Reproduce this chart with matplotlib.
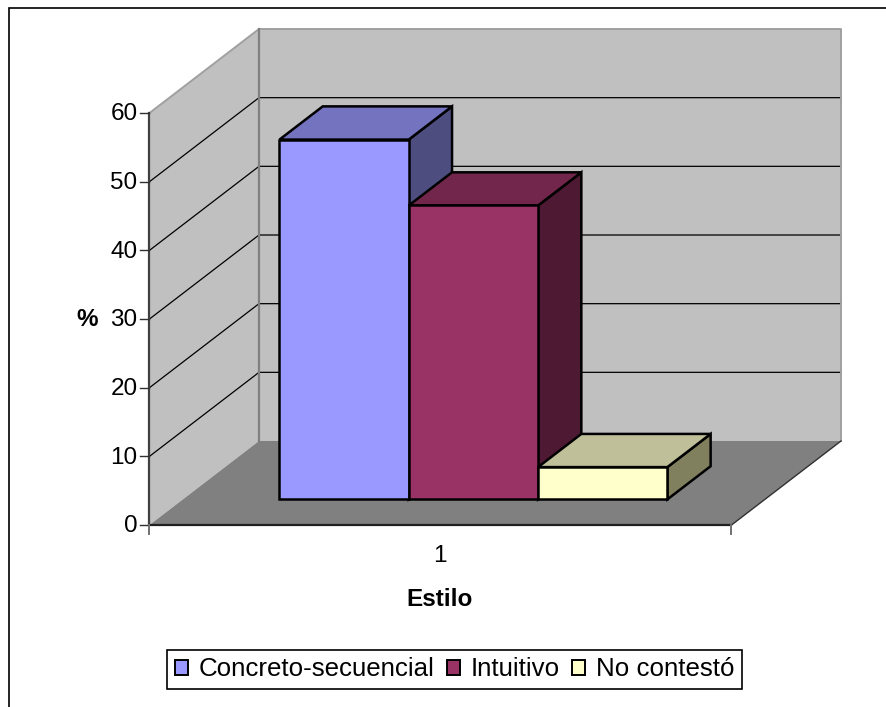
import matplotlib
matplotlib.use("Agg")
import matplotlib.pyplot as plt
from matplotlib.patches import Polygon, Patch

plt.rcParams['font.family'] = ['Liberation Sans', 'DejaVu Sans']

series_names = ["Concreto-secuencial", "Intuitivo", "No contestó"]
series_values = [52.4, 42.8, 4.7]
front_colors = ["#9999ff", "#993366", "#ffffcc"]
top_colors = ["#7373bf", "#73264c", "#bfbf99"]
side_colors = ["#4d4d80", "#4d1933", "#80805f"]
value_ticks = [0, 10, 20, 30, 40, 50, 60]
category_label = "1"
x_title = "Estilo"
y_title = "%"

# oblique projection of the 3D box, in figure pixels
X0, Y0 = 149.5, 525
PLOT_W = 582
UNIT_H = 412 / 60
DEPTH_X, DEPTH_Y = 109.5, 84
BAR_W = 129.3 / PLOT_W
BAR_D0, BAR_D1 = 0.305, 0.70
FONT_SIZE = 17.5


def project(x, depth, value):
    return (X0 + PLOT_W * x + DEPTH_X * depth, Y0 - UNIT_H * value - DEPTH_Y * depth)


def face(ax, points, color, zorder, edge="black", lw=1.8):
    ax.add_patch(Polygon([project(*p) for p in points], closed=True, facecolor=color,
                         edgecolor=edge, linewidth=lw, joinstyle="miter", zorder=zorder))


fig = plt.figure(figsize=(8.87, 7.07), dpi=100)
ax = fig.add_axes([0, 0, 1, 1])
ax.set_xlim(0, 887)
ax.set_ylim(707, 0)
ax.axis("off")

# chart frame, only left and top survive
ax.plot([9.5, 9.5, 887], [707, 7.5, 7.5], color="black", lw=1.2, solid_joinstyle="miter", zorder=1)

top = max(value_ticks)

# walls and floor
face(ax, [(0, 1, 0), (1, 1, 0), (1, 1, top), (0, 1, top)], "#c0c0c0", 2, edge="none", lw=0)
face(ax, [(0, 0, 0), (0, 1, 0), (0, 1, top), (0, 0, top)], "#c0c0c0", 2, edge="none", lw=0)
face(ax, [(0, 0, 0), (1, 0, 0), (1, 1, 0), (0, 1, 0)], "#808080", 3, edge="none", lw=0)

# gridlines across both walls
for v in value_ticks[1:-1]:
    xs, ys = zip(project(0, 0, v), project(0, 1, v), project(1, 1, v))
    ax.plot(xs, ys, color="black", lw=0.9, zorder=3)

# wall outlines
xs, ys = zip(project(0, 0, top), project(0, 1, top), project(1, 1, top), project(1, 1, 0))
ax.plot(xs, ys, color="#a0a0a0", lw=1.4, zorder=3)
xs, ys = zip(project(0, 1, top), project(0, 1, 0))
ax.plot(xs, ys, color="#808080", lw=1.6, zorder=3)
xs, ys = zip(project(1, 0, 0), project(1, 1, 0))
ax.plot(xs, ys, color="#303030", lw=1.0, zorder=4)

# bars, left to right so each one overlaps the previous side face
start = 0.5 - BAR_W * len(series_values) / 2 - 0.0008
for i, v in enumerate(series_values):
    x0 = start + BAR_W * i
    x1 = x0 + BAR_W
    z = 5 + i
    face(ax, [(x1, BAR_D0, 0), (x1, BAR_D1, 0), (x1, BAR_D1, v), (x1, BAR_D0, v)], side_colors[i], z)
    face(ax, [(x0, BAR_D0, v), (x1, BAR_D0, v), (x1, BAR_D1, v), (x0, BAR_D1, v)], top_colors[i], z)
    face(ax, [(x0, BAR_D0, 0), (x1, BAR_D0, 0), (x1, BAR_D0, v), (x0, BAR_D0, v)], front_colors[i], z)

# front axes
xs, ys = zip(project(0, 0, top), project(0, 0, 0))
ax.plot(xs, ys, color="#404040", lw=1.6, zorder=10)
xs, ys = zip(project(0, 0, 0), project(1, 0, 0))
ax.plot(xs, ys, color="#202020", lw=1.6, zorder=10)
for v in value_ticks:
    px, py = project(0, 0, v)
    ax.plot([px - 9, px], [py, py], color="#303030", lw=1.0, zorder=10)
    ax.text(px - 12, py + 1.5, str(v), ha="right", va="center", fontsize=FONT_SIZE, color="black")
for x in [0, 1]:
    px, py = project(x, 0, 0)
    ax.plot([px, px], [py, py + 9], color="#707070", lw=1.4, zorder=10)

px, py = project(0.5, 0, 0)
ax.text(px - 1, 556, category_label, ha="center", va="center", fontsize=FONT_SIZE)
ax.text(px - 0.5, 600, x_title, ha="center", va="center", fontsize=FONT_SIZE, fontweight="bold")
ax.text(87, 319, y_title, ha="center", va="center", fontsize=FONT_SIZE, fontweight="bold")

handles = [Patch(facecolor=c, edgecolor="black", linewidth=1.4) for c in front_colors]
leg = ax.legend(handles, series_names, loc="center", bbox_to_anchor=(454.5, 669.5),
                bbox_transform=ax.transData, ncol=3, fontsize=18.6, fancybox=False,
                edgecolor="black", framealpha=1, handlelength=0.5, handleheight=0.55,
                handletextpad=0.4, columnspacing=0.5, borderpad=0.3, borderaxespad=0)
leg.get_frame().set_linewidth(1.2)

fig.savefig("out.png", dpi=100)
